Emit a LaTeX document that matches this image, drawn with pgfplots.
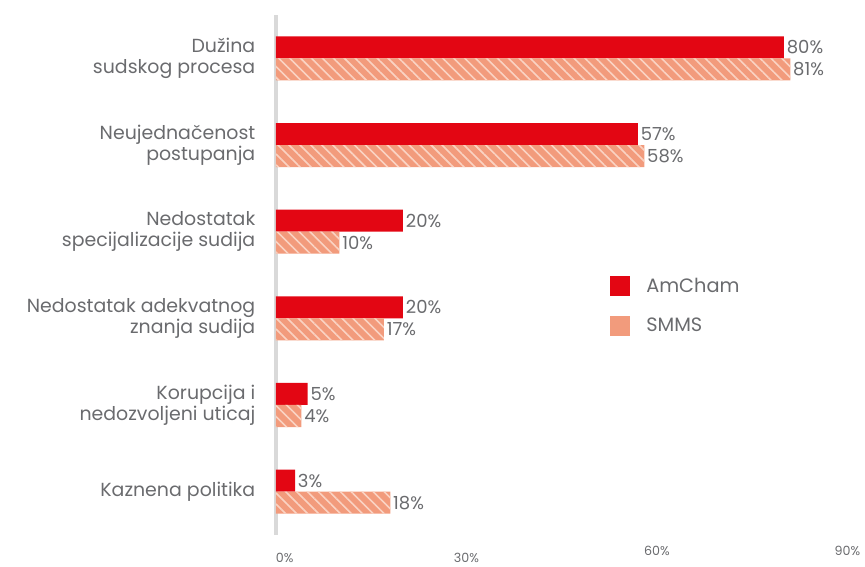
\documentclass[border=0pt]{standalone}
\usepackage{pgfplots}
\pgfplotsset{compat=1.18}
\usepackage{fontspec}
\setmainfont{Poppins}
\usetikzlibrary{patterns.meta}
\definecolor{amred}{HTML}{E30613}
\definecolor{salmon}{HTML}{F29B7C}
\definecolor{stripe}{HTML}{FAD3C3}
\definecolor{txt}{HTML}{6A6B6E}
\definecolor{axgray}{HTML}{D9D9D9}
\begin{document}
\begin{tikzpicture}
\begin{axis}[
 scale only axis, width=428.6pt, height=390pt,
 /pgf/number format/assume math mode=true,
 xbar, bar width=16.5pt,
 xmin=0, xmax=90, ymin=-0.5, ymax=5.5,
 ytick={0,1,2,3,4,5},
 yticklabels={Kaznena politika,{Korupcija i\\nedozvoljeni uticaj},{Nedostatak adekvatnog\\znanja sudija},{Nedostatak\\specijalizacije sudija},{Neujednačenost\\postupanja},{Dužina\\sudskog procesa}},
 yticklabel style={align=right, font=\fontsize{14.2}{15.8}\selectfont, text=txt, xshift=-12pt},
 xtick={0,30,60,90}, xticklabels={\makebox[0pt][l]{0\%},30\%,\raisebox{5pt}{60\%},\raisebox{5.5pt}{90\%}},
 xticklabel style={font=\fontsize{9.5}{10}\selectfont, text=txt, anchor=base, yshift=-20.5pt},
 major tick length=0pt,
 axis lines*=left,
 x axis line style={draw=none},
 y axis line style={draw=axgray, line width=3pt},
 nodes near coords={\pgfmathprintnumber{\pgfplotspointmeta}\%},
 nodes near coords style={font=\fontsize{13.5}{14}\selectfont, text=txt, anchor=west, inner sep=2pt},
 point meta=x,
 legend image code/.code={\fill[#1] (0pt,-7.5pt) rectangle (15pt,7.5pt);},
 legend style={at={(axis description cs:0.5845,0.4404)}, anchor=west, draw=none, fill=none, inner sep=0pt, row sep=12pt, font=\fontsize{14.5}{15}\selectfont, text=txt, legend cell align=left, nodes={inner sep=3pt, text=txt}, /tikz/every odd column/.append style={column sep=9pt}},
 clip=false,
]
\addplot[fill=amred, draw=none, bar shift=8.25pt, forget plot] coordinates {(3,0) (5,1) (20,2) (20,3) (57,4) (80,5)};
\addplot[fill=salmon, draw=none, bar shift=-8.25pt, forget plot, postaction={pattern={Lines[angle=-45,distance=5.8pt,line width=1.2pt]}, pattern color=stripe}] coordinates {(18,0) (4,1) (17,2) (10,3) (58,4) (81,5)};
\addlegendimage{fill=amred, draw=none}
\addlegendentry{AmCham}
\addlegendimage{fill=salmon, draw=none}
\addlegendentry{SMMS}
\path[use as bounding box] (axis description cs:0,0) ++(-207pt,-21.75pt) rectangle ++(648.75pt,423pt);
\end{axis}
\end{tikzpicture}
\end{document}
